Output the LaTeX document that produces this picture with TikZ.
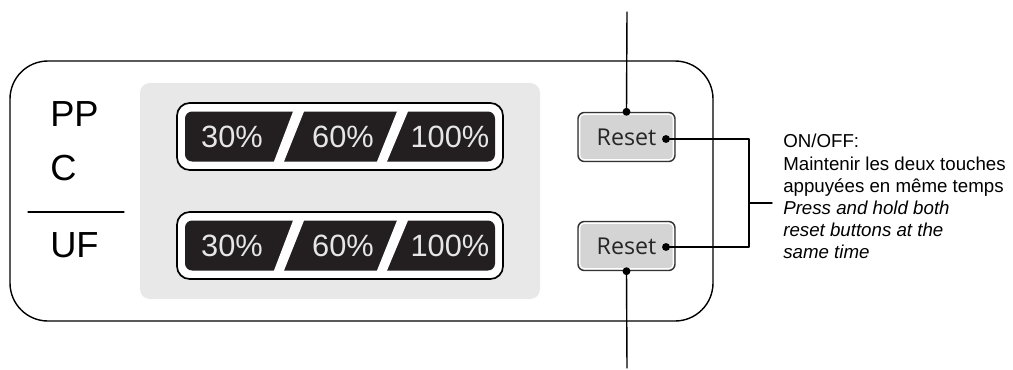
\documentclass[tikz,border=0pt]{standalone}
\usepackage{fontspec}
\setmainfont{Liberation Sans}
\newfontfamily\resetfont{Open Sans}
\usetikzlibrary{positioning}
\definecolor{dispbg}{HTML}{231F20}
\definecolor{dispfg}{HTML}{E6E6E6}
\definecolor{panelgray}{HTML}{E8E8E8}
\definecolor{btngray}{HTML}{D4D4D4}
\begin{document}
\begin{tikzpicture}[x=0.025cm,y=-0.025cm,line join=round,line cap=round,
	font=\fontsize{13.3}{15.8}\selectfont,
	lbl/.style={font=\fontsize{25.8}{30}\selectfont,anchor=base west,inner sep=0pt},
	disp/.style={font=\fontsize{21.9}{24}\selectfont,text=dispfg,anchor=base,inner sep=0pt},
	resetbtn/.style={draw=black!80,fill=btngray,line width=1pt,rounded corners=4.5pt,minimum width=2.425cm,minimum height=1.225cm,inner sep=0pt,font=\resetfont\fontsize{16.5}{18}\selectfont,text=black!85},
	callout/.style={line width=1pt}]
	\useasboundingbox (0,0) rectangle (1013,369);
	\fill[panelgray,rounded corners=7pt] (140,83) rectangle (540,299);
	\draw[line width=1pt,rounded corners=27pt] (10,61) rectangle (713,321);
	\node[lbl] (pp) at (50,126) {PP};
	\node[lbl] (c) at (50,180) {C};
	\draw[line width=0.9pt] (28,212) -- (124,212);
	\node[lbl] (uf) at (50,257) {UF};
	\foreach \yc/\k in {136.5/a,245.5/b}{
		\draw[fill=white,line width=1.2pt,rounded corners=9pt] (177,\yc-33.5) rectangle (503,\yc+33.5);
		\fill[dispbg,rounded corners=5pt] (185,\yc-25) rectangle (495,\yc+25);
		\fill[white] (293.4,\yc-26) -- (304.4,\yc-26) -- (283.6,\yc+26) -- (273.6,\yc+26) -- cycle;
		\fill[white] (397.4,\yc-26) -- (408.4,\yc-26) -- (386.6,\yc+26) -- (376.6,\yc+26) -- cycle;
		\node[disp] (t30\k) at (232,\yc+11) {30\%};
		\node[disp] (t60\k) at (343,\yc+11) {60\%};
		\node[disp] (t100\k) at (450,\yc+11) {100\%};
	}
	\node[resetbtn] (rs1) at (626.5,137) {Reset\hspace{3.6pt}};
	\node[resetbtn] (rs2) at (626.5,246) {Reset\hspace{3.6pt}};
	\foreach \b in {rs1,rs2}
	\draw[white,line width=0.8pt,rounded corners=3pt] ([shift={(2.5,2.5)}]\b.north west) rectangle ([shift={(-2.5,-2.5)}]\b.south east);
	\coordinate (tptop) at (627,12);
	\coordinate (btend) at (627,368);
	\coordinate (dt1) at (666,139);
	\coordinate (dt2) at (666,247);
	\coordinate (brk) at (749,203);
	\node[anchor=north west,inner xsep=0.275cm,inner ysep=0pt,align=left] (note) at (772,134) {ON/OFF:\\Maintenir les deux touches\\appuyées en même temps\\\textit{Press and hold both}\\\textit{reset buttons at the}\\\textit{same time}};
	\draw[callout] (tptop) -- (rs1.north);
	\draw[callout] (rs2.south) -- (btend);
	\draw[callout] (dt1) -- (dt1 -| brk) -- (dt2 -| brk) -- (dt2);
	\draw[callout] (brk) -- (brk -| note.west);
	\fill (rs1.north) circle (2.8pt) (rs2.south) circle (2.8pt) (dt1) circle (2.8pt) (dt2) circle (2.8pt);
\end{tikzpicture}
\end{document}
